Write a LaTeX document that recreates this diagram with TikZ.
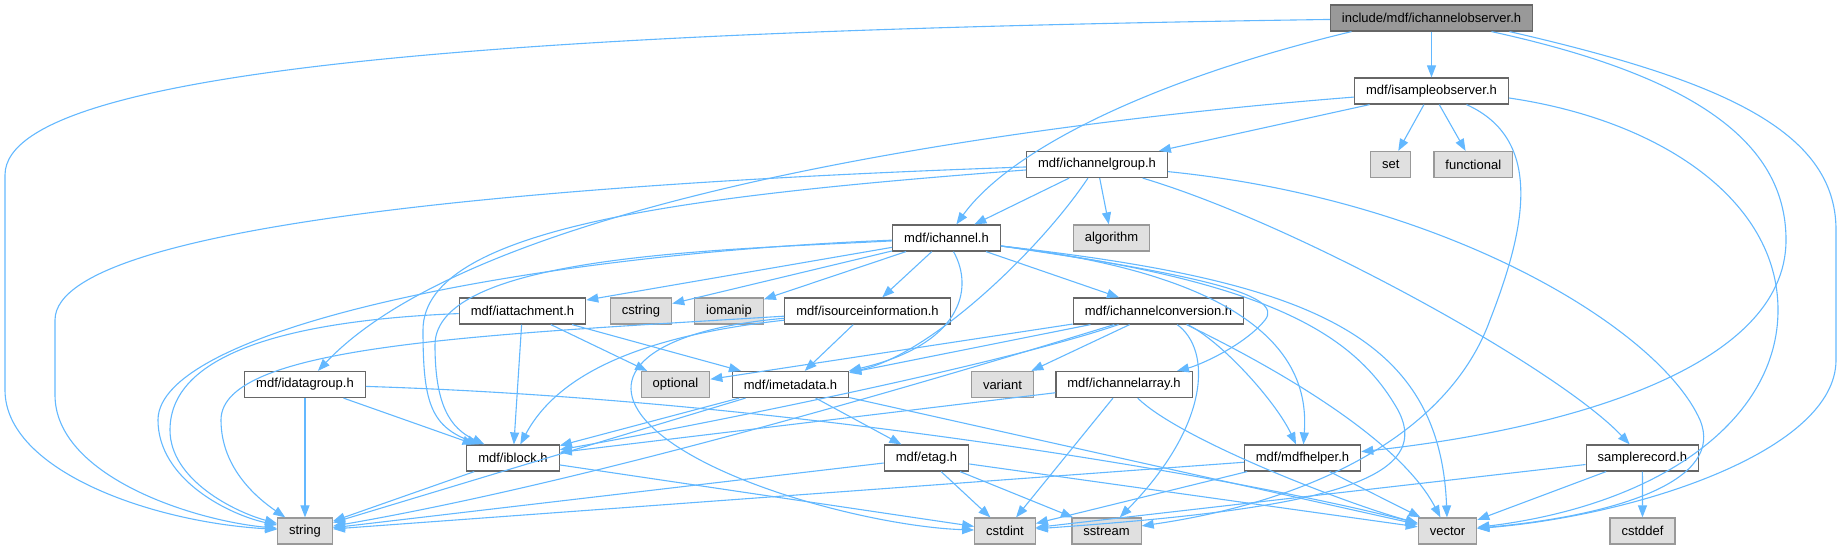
\documentclass[tikz,border=0pt]{standalone}
\usepackage{fontspec}
\setmainfont{Liberation Sans}
\usepackage{tikz}
\usetikzlibrary{arrows.meta}
\definecolor{depblue}{HTML}{63B8FF}
\definecolor{boxline}{HTML}{666666}
\definecolor{sysline}{HTML}{999999}
\definecolor{sysfill}{HTML}{E0E0E0}
\definecolor{rootfill}{HTML}{999999}

\begin{document}
\begin{tikzpicture}[x=1pt, y=-1pt,
  file/.style={draw=boxline, line width=1.2pt, fill=white, font=\fontsize{13}{15}\selectfont,
    minimum height=26pt, inner xsep=11.5pt, inner ysep=0pt},
  sysfile/.style={file, draw=sysline, fill=sysfill},
  rootfile/.style={file, fill=rootfill},
  dep/.style={depblue, line width=1.1pt, -{Triangle[length=12pt 0, width=9pt 0]}}]
  \useasboundingbox (0,0) rectangle (1843,549);

  % Rows of the include graph
  \node[rootfile] (root) at (1431.5,18) {include/mdf/ichannelobserver.h};
  \node[file] (isobs) at (1431.5,91) {mdf/isampleobserver.h};
  \node[sysfile] (set) at (1390.7,164.5) {set};
  \node[sysfile] (functional) at (1473.3,164.5) {functional};
  \node[file] (chgroup) at (1097,164.5) {mdf/ichannelgroup.h};
  \node[file] (ichannel) at (946.5,238) {mdf/ichannel.h};
  \node[sysfile] (algorithm) at (1111.5,238) {algorithm};
  \node[file] (iattach) at (522.5,311) {mdf/iattachment.h};
  \node[sysfile] (cstring) at (641,311) {cstring};
  \node[sysfile] (iomanip) at (729,311) {iomanip};
  \node[file] (isrcinfo) at (867.5,311) {mdf/isourceinformation.h};
  \node[file] (chconv) at (1158.5,311) {mdf/ichannelconversion.h};
  \node[file] (idatagroup) at (305,384.5) {mdf/idatagroup.h};
  \node[sysfile] (optional) at (675.5,384.5) {optional};
  \node[file] (imetadata) at (790.5,384.5) {mdf/imetadata.h};
  \node[sysfile] (variant) at (1002.5,384.5) {variant};
  \node[file] (charray) at (1124,384.5) {mdf/ichannelarray.h};
  \node[file] (iblock) at (513,458) {mdf/iblock.h};
  \node[file] (etag) at (926.5,458) {mdf/etag.h};
  \node[file] (mdfhelper) at (1302.5,458) {mdf/mdfhelper.h};
  \node[file] (samplerec) at (1642.4,458) {samplerecord.h};
  \node[sysfile] (string) at (305,531) {string};
  \node[sysfile] (cstdint) at (1005,531) {cstdint};
  \node[sysfile] (sstream) at (1106.5,531) {sstream};
  \node[sysfile] (vector) at (1447.5,531) {vector};
  \node[sysfile] (cstddef) at (1642.5,531) {cstddef};

  % include/mdf/ichannelobserver.h
  \draw[dep] (root) -- (isobs);
  \draw[dep] (root) .. controls (600,30) and (5,60) .. (5,175) -- (5,390) .. controls (5,470) and (150,522) .. (string);
  \draw[dep] ([xshift=-80]root.south) .. controls (1150,80) and (1010,150) .. (ichannel);
  \draw[dep] ([xshift=60]root.south) .. controls (1690,75) and (1786,140) .. (1786,240) .. controls (1786,370) and (1560,430) .. (mdfhelper);
  \draw[dep] ([xshift=78]root.south) .. controls (1720,80) and (1836,130) .. (1836,230) -- (1836,360) .. controls (1836,450) and (1640,515) .. (vector);

  % mdf/isampleobserver.h
  \draw[dep] (isobs) -- (set);
  \draw[dep] (isobs) -- (functional);
  \draw[dep] (isobs) -- (chgroup);
  \draw[dep] (isobs) .. controls (1000,125) and (480,200) .. (idatagroup);
  \draw[dep] ([xshift=35]isobs.south) .. controls (1545,140) and (1525,230) .. (1490,320) .. controls (1450,430) and (1320,500) .. (sstream);
  \draw[dep] ([yshift=-7]isobs.east) .. controls (1660,120) and (1778,200) .. (1778,310) .. controls (1778,420) and (1660,505) .. (vector);

  % mdf/ichannelgroup.h
  \draw[dep] (chgroup) -- (ichannel);
  \draw[dep] (chgroup) -- (algorithm);
  \draw[dep] (chgroup) .. controls (1040,250) and (930,355) .. (imetadata);
  \draw[dep] (chgroup) .. controls (1300,225) and (1560,370) .. (samplerec);
  \draw[dep] (chgroup) .. controls (1450,200) and (1660,330) .. (1700,420) .. controls (1725,480) and (1620,515) .. (vector);
  \draw[dep] (chgroup) .. controls (650,180) and (55,215) .. (55,320) -- (55,395) .. controls (55,475) and (190,520) .. (string);
  \draw[dep] (chgroup) .. controls (700,195) and (423,225) .. (423,330) .. controls (423,400) and (430,425) .. (iblock);

  % mdf/ichannel.h
  \draw[dep] (ichannel) -- (iattach);
  \draw[dep] (ichannel) -- (cstring);
  \draw[dep] (ichannel) -- (iomanip);
  \draw[dep] (ichannel) -- (isrcinfo);
  \draw[dep] (ichannel) -- (chconv);
  \draw[dep] ([xshift=7]ichannel.south) .. controls (975,290) and (960,345) .. (imetadata);
  \draw[dep] (ichannel) .. controls (720,250) and (435,255) .. (435,345) .. controls (435,405) and (450,428) .. (iblock);
  \draw[dep] (ichannel) .. controls (520,255) and (158,330) .. (158,420) .. controls (158,480) and (230,515) .. (string);
  \draw[dep] ([yshift=-8]ichannel.east) .. controls (1200,275) and (1285,295) .. (1265,320) .. controls (1245,345) and (1200,365) .. (charray);
  \draw[dep] ([yshift=-8]ichannel.east) .. controls (1290,280) and (1308,380) .. (mdfhelper);
  \draw[dep] ([yshift=-8]ichannel.east) .. controls (1260,280) and (1350,330) .. (1395,405) .. controls (1445,485) and (1300,510) .. (cstdint);
  \draw[dep] ([yshift=-8]ichannel.east) .. controls (1300,280) and (1440,330) .. (vector);

  % mdf/iattachment.h
  \draw[dep] (iattach) -- (iblock);
  \draw[dep] (iattach) -- (optional);
  \draw[dep] (iattach) -- (imetadata);
  \draw[dep] (iattach) .. controls (300,320) and (170,350) .. (170,430) .. controls (170,480) and (235,512) .. (string);

  % mdf/isourceinformation.h
  \draw[dep] (isrcinfo) -- (imetadata);
  \draw[dep] (isrcinfo) .. controls (650,335) and (560,370) .. (iblock);
  \draw[dep] (isrcinfo) .. controls (480,335) and (221,345) .. (221,420) .. controls (221,470) and (260,500) .. (string);
  \draw[dep] (isrcinfo) .. controls (650,330) and (600,375) .. (650,425) .. controls (710,485) and (880,527) .. (cstdint);

  % mdf/ichannelconversion.h
  \draw[dep] (chconv) -- (optional);
  \draw[dep] (chconv) -- (imetadata);
  \draw[dep] (chconv) -- (variant);
  \draw[dep] (chconv) .. controls (1000,365) and (700,425) .. (iblock);
  \draw[dep] (chconv) .. controls (950,375) and (600,480) .. (string);
  \draw[dep] (chconv) .. controls (1220,340) and (1275,400) .. (mdfhelper);
  \draw[dep] (chconv) .. controls (1212,350) and (1210,425) .. (sstream);
  \draw[dep] (chconv) .. controls (1280,370) and (1400,440) .. (vector);

  % mdf/ichannelarray.h
  \draw[dep] (charray) -- (iblock);
  \draw[dep] (charray) -- (cstdint);
  \draw[dep] (charray) .. controls (1180,440) and (1350,505) .. (vector);

  % mdf/idatagroup.h
  \draw[dep] (idatagroup) -- (string);
  \draw[dep] (idatagroup) -- (iblock);
  \draw[dep] (idatagroup) .. controls (800,400) and (1250,480) .. (vector);

  % mdf/imetadata.h
  \draw[dep] (imetadata) -- (iblock);
  \draw[dep] (imetadata) -- (string);
  \draw[dep] (imetadata) -- (etag);
  \draw[dep] (imetadata) -- (vector);

  % mdf/iblock.h
  \draw[dep] (iblock) -- (string);
  \draw[dep] (iblock) -- (cstdint);

  % mdf/etag.h
  \draw[dep] (etag) -- (string);
  \draw[dep] (etag) -- (cstdint);
  \draw[dep] (etag) -- (sstream);
  \draw[dep] (etag) -- (vector);

  % mdf/mdfhelper.h
  \draw[dep] (mdfhelper) -- (string);
  \draw[dep] (mdfhelper) -- (cstdint);
  \draw[dep] (mdfhelper) -- (vector);

  % samplerecord.h
  \draw[dep] (samplerec) -- (cstdint);
  \draw[dep] (samplerec) -- (vector);
  \draw[dep] (samplerec) -- (cstddef);
\end{tikzpicture}
\end{document}
